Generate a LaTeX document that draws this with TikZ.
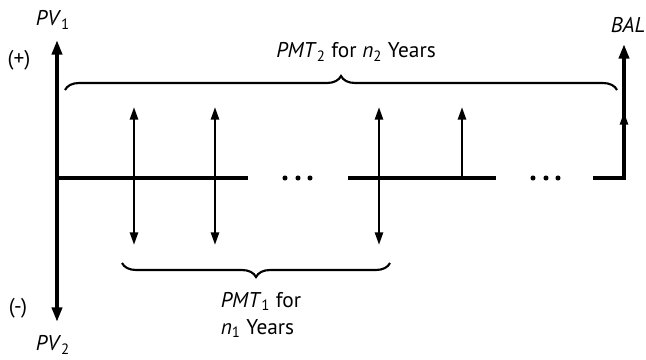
\documentclass[tikz,border=0pt]{standalone}
\usepackage{fontspec}
\setmainfont{PT Sans}
\usetikzlibrary{arrows.meta,decorations.pathreplacing}
\newcommand{\sym}[2]{\textit{#1}\textsubscript{#2}}

\begin{document}
\begin{tikzpicture}[x=0.75pt,y=-0.75pt, every node/.style={font=\fontsize{16}{20}\selectfont,inner sep=0pt},
  axis/.style={line width=3pt,-{Triangle[length=11pt,width=7.5pt]}},
  seg/.style={line width=2.6pt},
  pay/.style={line width=1.9pt,-{Triangle[length=9.5pt,width=6pt]}},
  brc/.style={line width=1.6pt,decorate,decoration={brace,amplitude=10.5pt}}]
\useasboundingbox (0,0) rectangle (646,360);
% labels
\node (pv1) at (53,20) {\sym{PV}{1}};
\node (pv2) at (53,345) {\sym{PV}{2}};
\node (plus) at (19,60) {(+)};
\node (minus) at (18,308) {(-)};
\node (bal) at (628,25) {\textit{BAL}};
\node (pmt2) at (356,52) {\sym{PMT}{2} for \textit{n}\textsubscript{2} Years};
\node[align=left] (pmt1) at (261,315) {\sym{PMT}{1} for\\\textit{n}\textsubscript{1} Years};
% time line
\coordinate (o) at (57,178);
\coordinate (top) at (57,40);
\coordinate (bot) at (57,322);
\coordinate (t1) at (248,178);
\coordinate (t2) at (348,178);
\coordinate (t3) at (496,178);
\coordinate (t4) at (593,178);
\coordinate (t5) at (624,178);
\coordinate (baltip) at (624,44);
\coordinate (balmid) at (624,112);
\draw[axis] (o) -- (top);
\draw[axis] (o) -- (bot);
\draw[seg] (o) -- (t1);
\draw[seg] (t2) -- (t3);
\draw[axis] (t4) -- (t5) -- (baltip);
\draw[pay] (t5) -- (balmid);
\foreach \x in {285,298,310,533,546,558}
  \fill (\x,178) circle (1.9pt);
% payments
\foreach \x [count=\i] in {134,215,379} {
  \coordinate (c\i) at (\x,178);
  \coordinate (u\i) at (\x,107);
  \coordinate (d\i) at (\x,245);
  \draw[pay] (c\i) -- (u\i);
  \draw[pay] (c\i) -- (d\i);
}
\coordinate (c4) at (462,178);
\coordinate (u4) at (462,107);
\draw[pay] (c4) -- (u4);
% braces
\coordinate (b2l) at (65,90);
\coordinate (b2r) at (617,90);
\coordinate (b1l) at (122,263);
\coordinate (b1r) at (390,263);
\draw[brc] (b2l) -- (b2r);
\draw[brc] (b1r) -- (b1l);
\end{tikzpicture}
\end{document}
